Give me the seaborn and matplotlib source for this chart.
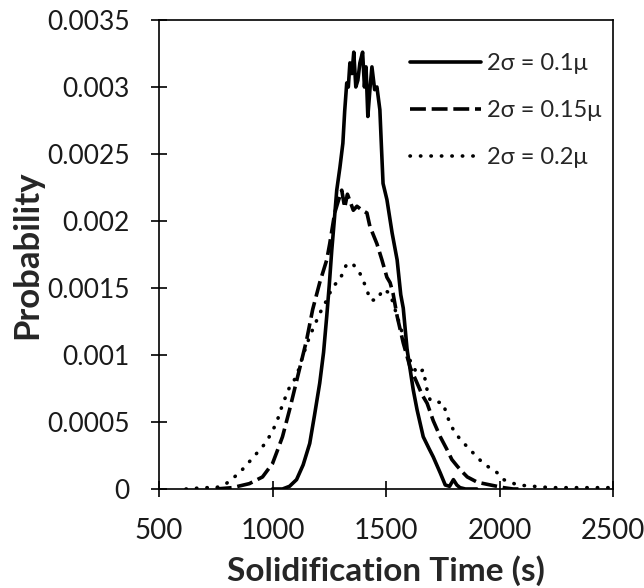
import numpy as np
import pandas as pd
import matplotlib
matplotlib.use("Agg")
import matplotlib.pyplot as plt
import seaborn as sns

# ---- data ----
x_01 = [1000, 1044, 1075, 1106, 1135, 1164, 1185, 1208, 1225, 1239, 1250, 1261, 1272, 1283,
        1297, 1310, 1318, 1327, 1334, 1341, 1350, 1358, 1367, 1376, 1385, 1397, 1405, 1412,
        1420, 1430, 1438, 1450, 1460, 1473, 1480, 1487, 1504, 1527, 1549, 1565, 1576, 1593,
        1620, 1637, 1664, 1690, 1708, 1739, 1761, 1780, 1797, 1812, 1826, 1850, 1900]
y_01 = [0, 0, 0.00002, 0.00007, 0.00018, 0.00034, 0.00055, 0.00079, 0.00102, 0.00129, 0.00152,
        0.00178, 0.00200, 0.00223, 0.00240, 0.00258, 0.00282, 0.00303, 0.00300, 0.00318, 0.00310,
        0.00326, 0.00300, 0.00305, 0.00318, 0.00326, 0.00300, 0.00315, 0.00278, 0.00300, 0.00315,
        0.00298, 0.00300, 0.00283, 0.00255, 0.00228, 0.00216, 0.00191, 0.00171, 0.00145, 0.00135,
        0.00104, 0.00074, 0.00059, 0.00039, 0.00030, 0.00024, 0.00012, 0.00003, 0.00002, 0.00007,
        0.00003, 0.00001, 0, 0]

x_015 = [750, 823, 898, 956, 1000, 1020, 1044, 1075, 1111, 1150, 1177, 1208, 1239, 1252, 1274,
         1290, 1305, 1318, 1330, 1341, 1356, 1372, 1395, 1416, 1429, 1460, 1482, 1504, 1518, 1531,
         1549, 1576, 1606, 1637, 1660, 1681, 1708, 1739, 1770, 1790, 1814, 1835, 1858, 1903, 1960,
         2018, 2060, 2100]
y_015 = [0, 0.00001, 0.00004, 0.00009, 0.00019, 0.00028, 0.00039, 0.00059, 0.00084, 0.00111,
         0.00134, 0.00154, 0.00171, 0.00183, 0.00206, 0.00215, 0.00223, 0.00210, 0.00220, 0.00215,
         0.00208, 0.00211, 0.00208, 0.00206, 0.00196, 0.00183, 0.00171, 0.00158, 0.00154, 0.00146,
         0.00129, 0.00109, 0.00091, 0.00079, 0.00070, 0.00064, 0.00051, 0.00039, 0.00029, 0.00022,
         0.00017, 0.00013, 0.00009, 0.00005, 0.00003, 0.00001, 0, 0]

x_02 = [619, 700, 752, 796, 854, 912, 973, 1017, 1044, 1075, 1106, 1133, 1164, 1208, 1239, 1265,
        1296, 1327, 1354, 1385, 1416, 1429, 1460, 1487, 1518, 1549, 1576, 1606, 1637, 1664, 1681,
        1695, 1726, 1752, 1770, 1797, 1827, 1872, 1929, 1991, 2018, 2080, 2150, 2226, 2350, 2500]
y_02 = [0, 0.00001, 0.00001, 0.00004, 0.00012, 0.00023, 0.00035, 0.00049, 0.00063, 0.00076,
        0.00084, 0.00099, 0.00114, 0.00131, 0.00141, 0.00151, 0.00156, 0.00168, 0.00168, 0.00161,
        0.00149, 0.00141, 0.00141, 0.00149, 0.00146, 0.00129, 0.00114, 0.00096, 0.00086, 0.00089,
        0.00074, 0.00066, 0.00065, 0.00064, 0.00054, 0.00044, 0.00037, 0.00029, 0.00019, 0.00012,
        0.00007, 0.00003, 0.00002, 0.00001, 0.00001, 0.00001]

labels = ["2σ = 0.1μ", "2σ = 0.15μ", "2σ = 0.2μ"]
x_ticks = [500, 1000, 1500, 2000, 2500]
y_ticks = [0, 0.0005, 0.001, 0.0015, 0.002, 0.0025, 0.003, 0.0035]
y_ticklabels = ["0", "0.0005", "0.001", "0.0015", "0.002", "0.0025", "0.003", "0.0035"]

sns.set_style("white")
plt.rcParams["font.family"] = ["Lato", "DejaVu Sans"]
plt.rcParams["xtick.bottom"] = True
plt.rcParams["ytick.left"] = True
plt.rcParams["xtick.direction"] = "inout"
plt.rcParams["ytick.direction"] = "inout"
plt.rcParams["xtick.major.size"] = 12
plt.rcParams["ytick.major.size"] = 12
plt.rcParams["xtick.major.width"] = 1.2
plt.rcParams["ytick.major.width"] = 1.2
plt.rcParams["xtick.color"] = "black"
plt.rcParams["ytick.color"] = "black"

fig = plt.figure(figsize=(6.44, 5.88), dpi=100)
ax = fig.add_axes([159 / 644, 1 - 489 / 588, (613 - 159) / 644, (489 - 20) / 588])

styles = ["-", (0, (4.4, 1.6)), (0, (0.1, 2.8))]
caps = ["butt", "butt", "round"]
for xs, ys, ls, cap, lab in zip([x_01, x_015, x_02], [y_01, y_015, y_02], styles, caps, labels):
    sns.lineplot(x=xs, y=ys, ax=ax, color="black", linewidth=2.6, linestyle=ls,
                 label=lab, sort=False, estimator=None, dash_capstyle=cap)

ax.set_xlim(500, 2500)
ax.set_ylim(0, 0.0035)
ax.set_xticks(x_ticks)
ax.set_xticklabels([str(t) for t in x_ticks], fontsize=20)
ax.set_yticks(y_ticks)
ax.set_yticklabels(y_ticklabels, fontsize=19)

for s in ax.spines.values():
    s.set_color("black")
    s.set_linewidth(1.2)

ax.tick_params(axis="both", which="major", bottom=True, left=True, top=False, right=False,
               direction="inout", length=12, width=1.2, color="black", labelcolor="#1a1a1a")
ax.tick_params(axis="x", pad=15)
ax.tick_params(axis="y", pad=15)
for t in ax.xaxis.get_major_ticks() + ax.yaxis.get_major_ticks():
    t.tick1line.set_visible(True)
    t.tick1line.set_markeredgecolor("black")
    t.tick1line.set_markeredgewidth(1.2)
    t.tick1line.set_zorder(5)

ax.set_xlabel("Solidification Time (s)", fontsize=24, fontweight="bold", labelpad=8)
ax.set_ylabel("Probability", fontsize=25, fontweight="bold")
ax.yaxis.set_label_coords(-0.256, 0.5)

leg = ax.legend(loc="upper left", bbox_to_anchor=(410 / 644, 1 - 53 / 588),
                bbox_transform=fig.transFigure, frameon=False, borderpad=0, borderaxespad=0,
                fontsize=17, handlelength=3.0, handletextpad=0.25, labelspacing=1.1)
for line in leg.get_lines():
    line.set_linewidth(2.6)

fig.savefig("out.png", dpi=100)
